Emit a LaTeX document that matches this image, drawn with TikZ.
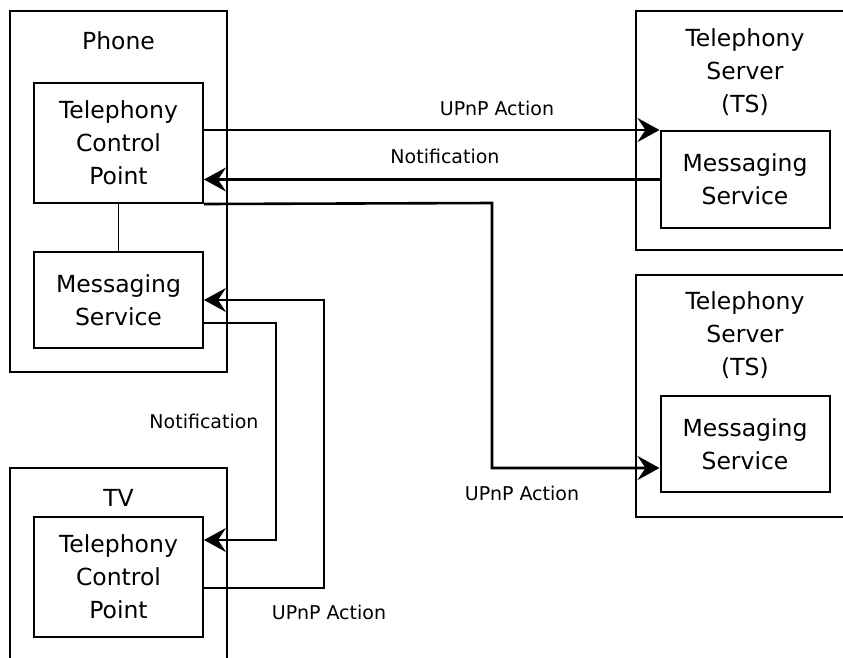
\documentclass[tikz,border=0pt]{standalone}
\usepackage{fontspec}
\setmainfont{DejaVu Sans}
\usetikzlibrary{arrows.meta}
\tikzset{
  devbox/.style={draw, line width=2pt, inner sep=0pt},
  svcbox/.style={draw, line width=2pt, inner sep=0pt, align=center,
    minimum width=169pt, font=\fontsize{23.5}{33}\selectfont},
  title/.style={align=center, inner sep=0pt, font=\fontsize{23.5}{33}\selectfont},
  msg/.style={line width=2.6pt, -{Stealth[length=22pt,width=24pt,inset=8pt]}},
  msglabel/.style={inner sep=0pt, font=\fontsize{19}{22}\selectfont}
}
\begin{document}
\begin{tikzpicture}[x=1pt,y=-1pt]
  \useasboundingbox (0,0) rectangle (843,657);
  % Phone
  \node[devbox, minimum width=217pt, minimum height=361pt] (phone) at (118.5,191.5) {};
  \node[title] (phonetitle) at (118.5,41) {Phone};
  \node[svcbox, minimum height=120pt] (phonetcp) at (118.5,143) {Telephony\\Control\\Point};
  \node[svcbox, minimum height=96pt] (phonems) at (118.5,300) {Messaging\\Service};
  \draw[line width=1.6pt] (phonetcp) -- (phonems);
  % TV (unten abgeschnitten)
  \node[devbox, minimum width=217pt, minimum height=232pt] (tv) at (118.5,584) {};
  \node[title] (tvtitle) at (118.5,498) {TV};
  \node[svcbox, minimum height=120pt] (tvtcp) at (118.5,577) {Telephony\\Control\\Point};
  % Telephony Server 1
  \node[devbox, minimum width=234pt, minimum height=239pt] (tsa) at (753,130.5) {};
  \node[title] (tsatitle) at (745,72) {Telephony\\Server\\(TS)};
  \node[svcbox, minimum height=97pt] (tsams) at (745,179.5) {Messaging\\Service};
  % Telephony Server 2
  \node[devbox, minimum width=234pt, minimum height=242pt] (tsb) at (753,396) {};
  \node[title] (tsbtitle) at (745,335) {Telephony\\Server\\(TS)};
  \node[svcbox, minimum height=96pt] (tsbms) at (745,444) {Messaging\\Service};
  % Knickpunkte
  \coordinate (bendA) at (492,203);
  \coordinate (bendB) at (324,588);
  \coordinate (bendC) at (276,323);
  % Nachrichten
  \draw[msg] (tsams.north west -| phonetcp.east) -- (tsams.north west);
  \draw[msg] (tsams.west) -- (tsams.west -| phonetcp.east);
  \draw[msg] (phonetcp.south east) -- (bendA) |- ([yshift=-24pt]tsbms.west);
  \draw[msg] ([yshift=-11pt]tvtcp.east) -- (bendB) |- (phonems.east);
  \draw[msg] ([yshift=-23pt]phonems.east) -- (bendC) |- ([yshift=37pt]tvtcp.east);
  \node[msglabel] (lblA) at (497,108) {UPnP Action};
  \node[msglabel] (lblB) at (445,156) {Notification};
  \node[msglabel] (lblC) at (522,493) {UPnP Action};
  \node[msglabel] (lblD) at (329,612) {UPnP Action};
  \node[msglabel] (lblE) at (204,421) {Notification};
\end{tikzpicture}
\end{document}
